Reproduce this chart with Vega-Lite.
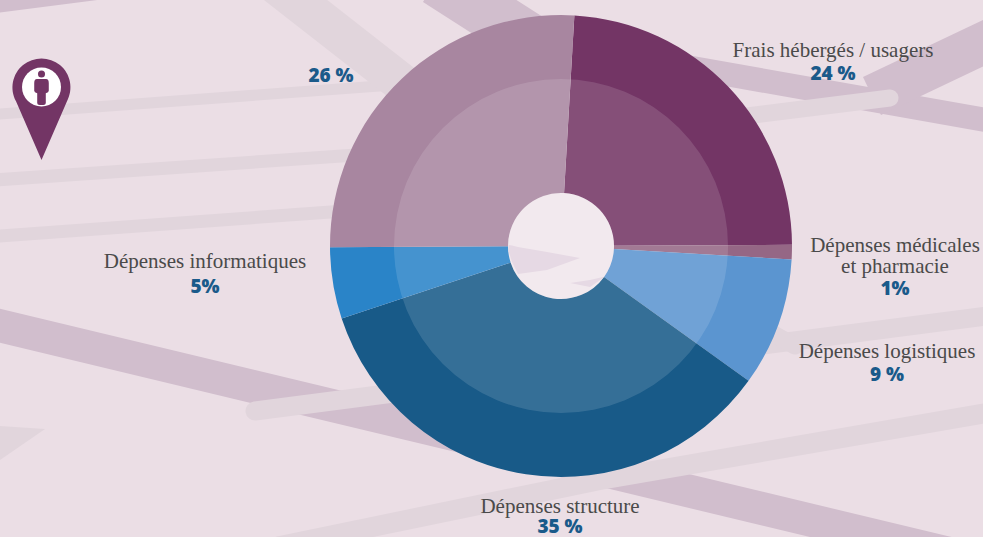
{"$schema":"https://vega.github.io/schema/vega-lite/v6.json","width":983,"height":537,"padding":0,"autosize":{"type":"none"},"background":"#ebdee5","config":{"view":{"stroke":null}},
"datasets":{
"darkRoads":[{"road":"d1","x":-20,"y":321},{"road":"d1","x":1010,"y":568},{"road":"d2","x":1010,"y":124.3},{"road":"d2","x":650,"y":60.5},{"road":"d3","x":1010,"y":30.5},{"road":"d3","x":872,"y":96},{"road":"d4","x":437,"y":-20},{"road":"d4","x":565,"y":62},{"road":"d5","x":-20,"y":5},{"road":"d5","x":120,"y":-13}],
"lightRoads":[{"road":"l1","x":1010,"y":409},{"road":"l1","x":600,"y":480},{"road":"l1","x":280,"y":546},{"road":"l2","x":255,"y":411},{"road":"l2","x":1010,"y":313},{"road":"l3","x":890,"y":98},{"road":"l3","x":650,"y":128},{"road":"l4","x":-20,"y":115.5},{"road":"l4","x":420,"y":83},{"road":"l5","x":-20,"y":181},{"road":"l5","x":400,"y":152},{"road":"l6","x":-20,"y":237.5},{"road":"l6","x":400,"y":207},{"road":"l7","x":270,"y":-20},{"road":"l7","x":430,"y":105},{"road":"l8","x":745,"y":318},{"road":"l8","x":795,"y":346}],
"shares":[{"poste":"Frais hébergés / usagers","part":24,"rang":1},{"poste":"Dépenses médicales et pharmacie","part":1,"rang":2},{"poste":"Dépenses logistiques","part":9,"rang":3},{"poste":"Dépenses structure","part":35,"rang":4},{"poste":"Dépenses informatiques","part":5,"rang":5},{"poste":"Autres","part":26,"rang":6}],
"names":[{"t":"Frais hébergés / usagers","x":833,"y":51},{"t":"Dépenses médicales","x":895,"y":246},{"t":"et pharmacie","x":895,"y":267},{"t":"Dépenses logistiques","x":887,"y":352},{"t":"Dépenses informatiques","x":205,"y":262},{"t":"Dépenses structure","x":560,"y":507}],
"pcts":[{"t":"24 %","x":833,"y":74},{"t":"26 %","x":331,"y":76},{"t":"1%","x":895,"y":289},{"t":"9 %","x":887,"y":375},{"t":"5%","x":205,"y":287},{"t":"35 %","x":560,"y":527}]
},
"encoding":{"x":{"field":"x","type":"quantitative","scale":{"domain":[0,983],"nice":false,"zero":false},"axis":null},"y":{"field":"y","type":"quantitative","scale":{"domain":[537,0],"nice":false,"zero":false},"axis":null}},
"layer":[
{"data":{"values":[{"x":0,"y":426,"y2":460},{"x":45,"y":429,"y2":429}]},"mark":{"type":"area","color":"#e1d5dc","clip":true},"encoding":{"y2":{"field":"y2"}}},
{"data":{"name":"darkRoads"},"mark":{"type":"line","color":"#d1becd","strokeCap":"butt","clip":true},"encoding":{"detail":{"field":"road"},"strokeWidth":{"field":"road","type":"nominal","legend":null,"scale":{"type":"ordinal","domain":["d1","d2","d3","d4","d5","l1","l2","l3","l4","l5","l6","l7","l8"],"range":[33,24,42,52,20,20,19,17,11,13,13,39,17]}}}},
{"data":{"name":"lightRoads"},"mark":{"type":"line","color":"#e1d5dc","strokeCap":"round","clip":true},"encoding":{"detail":{"field":"road"},"strokeWidth":{"field":"road","type":"nominal","legend":null,"scale":{"type":"ordinal","domain":["d1","d2","d3","d4","d5","l1","l2","l3","l4","l5","l6","l7","l8"],"range":[33,24,42,52,20,20,19,17,11,13,13,39,17]}}}},
{"data":{"name":"shares"},"mark":{"type":"arc","innerRadius":53,"outerRadius":231},"encoding":{"x":{"value":561},"y":{"value":246},"theta":{"field":"part","type":"quantitative","stack":true,"scale":{"range":[0.058,6.341]}},"order":{"field":"rang"},"fill":{"field":"poste","type":"nominal","legend":null,"sort":null,"scale":{"domain":["Frais hébergés / usagers","Dépenses médicales et pharmacie","Dépenses logistiques","Dépenses structure","Dépenses informatiques","Autres"],"range":["#733565","#956785","#5b95d0","#185a88","#2a84c8","#a886a0"]}}}},
{"data":{"values":[{"k":"ring"}]},"mark":{"type":"arc","innerRadius":53,"outerRadius":167,"theta":0,"theta2":6.2832,"fill":"#ffffff","fillOpacity":0.13},"encoding":{"x":{"value":561},"y":{"value":246}}},
{"data":{"values":[{"k":"hole"}]},"mark":{"type":"arc","innerRadius":0,"outerRadius":53,"theta":0,"theta2":6.2832,"fill":"#ffffff","fillOpacity":0.35},"encoding":{"x":{"value":561},"y":{"value":246}}},
{"data":{"values":[{"x":508.5,"y":245,"y2":251},{"x":512,"y":245.6,"y2":262},{"x":518,"y":247,"y2":274},{"x":547,"y":252,"y2":270},{"x":580,"y":258,"y2":258}]},"mark":{"type":"area","color":"#e6d9e4"},"encoding":{"y2":{"field":"y2"}}},
{"data":{"values":[{"x":570,"y":283,"y2":283},{"x":590,"y":280,"y2":287},{"x":603,"y":277,"y2":278}]},"mark":{"type":"area","color":"#e6d9e4"},"encoding":{"y2":{"field":"y2"}}},
{"data":{"values":[{"x":41.5,"y":109}]},"mark":{"type":"point","filled":true,"opacity":1,"color":"#733565","size":10404,"shape":"M0,1 L-0.5,-0.15 A0.569,0.569 0 1 1 0.5,-0.15 Z"}},
{"data":{"values":[{"x":41.5,"y":87}]},"mark":{"type":"point","filled":true,"opacity":1,"color":"#ffffff","size":1520,"shape":"circle"}},
{"data":{"values":[{"x":41.5,"y":74}]},"mark":{"type":"point","filled":true,"opacity":1,"color":"#733565","size":50,"shape":"circle"}},
{"data":{"values":[{"x":41.5,"y":92}]},"mark":{"type":"point","filled":true,"opacity":1,"color":"#733565","size":676,"shape":"M-0.35,-1 L0.35,-1 Q0.56,-1 0.56,-0.7 L0.56,-0.1 Q0.56,0.05 0.33,0.1 L0.33,0.85 Q0.33,1 0.15,1 L-0.15,1 Q-0.33,1 -0.33,0.85 L-0.33,0.1 Q-0.56,0.05 -0.56,-0.1 L-0.56,-0.7 Q-0.56,-1 -0.35,-1 Z"}},
{"data":{"name":"names"},"mark":{"type":"text","font":"Liberation Serif","fontSize":21,"color":"#4a4a4a","align":"center","baseline":"middle"},"encoding":{"text":{"field":"t"}}},
{"data":{"name":"pcts"},"mark":{"type":"text","font":"Open Sans","fontWeight":800,"fontSize":19,"color":"#1a5a8a","align":"center","baseline":"middle"},"encoding":{"text":{"field":"t"}}}
]}
